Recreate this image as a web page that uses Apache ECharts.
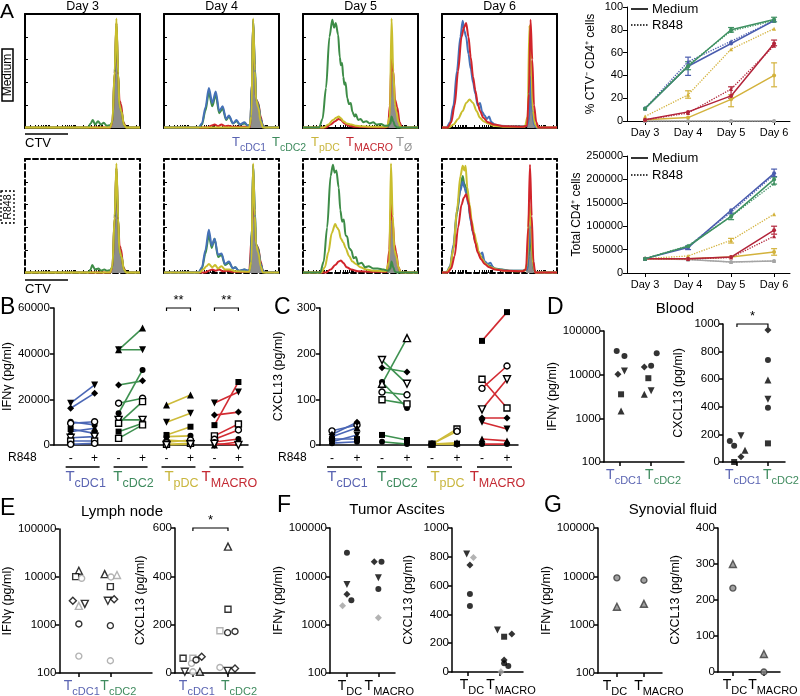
<!DOCTYPE html>
<html><head><meta charset="utf-8">
<script src="https://cdn.jsdelivr.net/npm/echarts@6/dist/echarts.min.js"></script>
<style>html,body{margin:0;padding:0;background:#fff}#c{width:800px;height:696px}</style>
</head><body><div id="c"></div><script>
const FONT = '"Liberation Sans", Arial, Helvetica, sans-serif';

// ---------- Panel A histograms (x: CTV position 0-100 of box, y: % of max) ----------
const hM3_green = [[0,0.5],[55,0.5],[57,4],[59,7],[61,3],[63.5,6],[66,3],[68.5,4.5],[71,2],[74,2.5],[76,5],[78,48],[79.5,92],[81,48],[82,20],[84,14],[86,3],[88,0.5],[100,0.5]];
const hM3_red = [[0,0.5],[74,0.5],[76,5],[78,48],[79.5,92],[81,46],[82.2,24],[83.5,21],[85.5,5],[88,0.5],[100,0.5]];
const hM3_gray = [[0,0],[74,0],[76,6],[78,50],[79.5,95],[81,48],[82,20],[84,14],[86,3],[88,0],[100,0]];
const hM3_yellow = [[0,0.5],[74,0.5],[76,6],[78,50],[79.5,96],[81,48],[82,20],[84,14],[86,3],[88,0.5],[100,0.5]];

const hM4_blue = [[0,0.5],[30,0.5],[33,4],[36,18],[39,35],[42,22],[45,32],[48,15],[51,19],[54,8],[56.5,11],[60,4],[63,7],[66,3],[70,5],[73,2],[75,3],[76.5,40],[77.5,95],[79,55],[80,25],[82,20],[84,8],[86,2],[88,0.5],[100,0.5]];
const hM4_green = [[0,0.5],[30,0.5],[33,3],[36,15],[39,31],[42,19],[45,29],[48,13],[51,17],[54,7],[56.5,10],[60,4],[63,6],[66,3],[70,4],[73,2],[75,3],[76.5,40],[77.5,94],[79,55],[80,25],[82,21],[84,8],[86,2],[88,0.5],[100,0.5]];
const hM4_red = [[0,0.5],[38,0.5],[41,2],[44,3],[47,1.5],[50,3],[53,1.5],[56,2],[60,1],[75,1],[76.5,40],[77.5,92],[79,50],[80,25],[82,22],[84,10],[86,2],[88,0.5],[100,0.5]];
const hM4_gray = [[0,0],[74,0],[76,10],[77.5,95],[79,50],[80,25],[82,18],[84,6],[86,0],[100,0]];
const hM4_yellow = [[0,0.5],[74,0.5],[76,10],[77.5,96],[79,50],[80,25],[82,18],[84,6],[86,0.5],[100,0.5]];

const hM5_green = [[0,0.5],[14,0.5],[17,8],[20,35],[23,80],[25.5,95],[27,88],[28.5,92],[30.5,82],[32,62],[33,55],[34,57],[35,45],[36,38],[37,40],[38.5,26],[40,21],[41.5,22],[43,14],[45,10],[46,12],[48,7],[50,8],[52.5,5],[55,6],[58,4],[61,5],[64,3],[68,3.5],[71,2],[74,2],[76,4],[77,10],[78.5,6],[80,2],[82,0.5],[100,0.5]];
const hM5_yellow = [[0,0.5],[18,0.5],[22,3],[26,7],[29,9],[31,10],[33,8.5],[35,6],[38,4],[42,3],[46,2],[50,1.5],[60,1],[73,1],[75.5,10],[77,96],[78.5,50],[80,20],[81,15],[83,5],[85,0.5],[100,0.5]];
const hM5_red = [[0,0.5],[20,0.5],[24,3],[28,6],[31,8],[33,7],[36,4],[40,2],[45,1],[70,0.5],[74,1],[75.5,20],[77,60],[78.5,50],[80,25],[82,18],[84,5],[86,0.5],[100,0.5]];
const hM5_gray = [[0,0],[74,0],[75.5,10],[77,95],[78.5,45],[80,20],[81.5,17],[83,5],[85,0],[100,0]];

const hM6_blue = [[0,0.5],[4,0.5],[7,5],[10,20],[13,50],[16,80],[18,94],[19.5,85],[21,80],[23,65],[25,52],[27,40],[29,30],[31,20],[33,22],[35,14],[37,11],[39,8],[41,10],[43,5],[46,3],[50,2],[60,1.5],[70,1.5],[74,2],[76,10],[77,45],[78,20],[80,3],[82,0.5],[100,0.5]];
const hM6_red = [[0,0.5],[5,0.5],[8,5],[11,20],[14,50],[17,80],[19,88],[21,92],[23,80],[25,62],[27,45],[29,33],[31,22],[33,15],[36,9],[40,5],[45,3],[55,1.5],[70,1],[74,2],[75.5,30],[77,95],[78.5,60],[80,20],[82,5],[84,0.5],[100,0.5]];
const hM6_yellow = [[0,0.5],[6,0.5],[10,3],[14,8],[18,15],[21,22],[24,25],[27,22],[30,15],[33,9],[36,6],[40,4],[45,2],[55,1],[72,1],[74.5,10],[76,90],[77.5,60],[79,15],[81,3],[83,0.5],[100,0.5]];
const hM6_gray = [[0,0],[74,0],[75.5,15],[76.5,70],[77.5,50],[79,15],[81,0],[100,0]];

const hR3_green = [[0,0.5],[55,0.5],[57,3],[58.5,7],[61,3],[64,4],[66,2],[69,3],[71,2],[74,2.5],[76,5],[78,48],[79.5,92],[81,48],[82,20],[84,14],[86,3],[88,0.5],[100,0.5]];
const hR3_red = [[0,0.5],[74,0.5],[76,5],[78,48],[79.5,92],[81,46],[82.2,24],[83.5,21],[85.5,5],[88,0.5],[100,0.5]];
const hR3_gray = [[0,0],[74,0],[76,6],[78,50],[79.5,95],[81,48],[82,20],[84,14],[86,3],[88,0],[100,0]];
const hR3_yellow = [[0,0.5],[74,0.5],[76,6],[78,50],[79.5,96],[81,48],[82,20],[84,14],[86,3],[88,0.5],[100,0.5]];

const hR4_blue = [[0,0.5],[30,0.5],[33,5],[36,20],[39,38],[41.5,24],[44,30],[47,16],[50,17],[53,8],[56.5,10],[60,4],[62,5],[65,2],[70,3],[73,2],[75,3],[76.5,40],[77.5,95],[79,55],[80,25],[82,20],[84,8],[86,2],[88,0.5],[100,0.5]];
const hR4_green = [[0,0.5],[30,0.5],[33,4],[36,17],[39,33],[41.5,22],[44,30],[47,14],[50,16],[53,7],[56.5,9],[60,4],[62,5],[65,2],[70,3],[73,2],[75,3],[76.5,40],[77.5,94],[79,55],[80,25],[82,21],[84,8],[86,2],[88,0.5],[100,0.5]];
const hR4_yellow = [[0,0.5],[31,0.5],[34,3],[37,6],[39,8],[42,5],[44.5,7],[47,4],[50,6],[53,3],[57,3],[62,1.5],[74,1],[76,10],[77.5,96],[79,50],[80,25],[82,18],[84,6],[86,0.5],[100,0.5]];
const hR4_red = [[0,0.5],[36,0.5],[39,2],[42,3],[45,2],[48,3],[51,1.5],[55,2],[60,1],[74,1],[76.5,35],[77.5,85],[79,45],[80,25],[82,22],[84,10],[86,2],[88,0.5],[100,0.5]];
const hR4_gray = [[0,0],[74,0],[76,10],[77.5,95],[79,50],[80,25],[82,18],[84,6],[86,0],[100,0]];

const hR5_green = [[0,0.5],[15,0.5],[18,10],[21,40],[24,85],[26,95],[27.5,88],[29,90],[31,75],[32.5,55],[34,45],[35.5,47],[37,33],[38.5,32],[40,22],[42,20],[44,13],[46,14],[48,8],[51,9],[54,5],[57,6],[61,4],[65,4],[70,3],[74,2],[76,4],[77,10],[78.5,5],[80,1],[82,0.5],[100,0.5]];
const hR5_yellow = [[0,0.5],[16,0.5],[19,5],[22,18],[25,35],[28,43],[29.5,40],[31,38],[33,30],[35,27],[37,22],[40,15],[43,10],[46,8],[50,5],[55,3],[62,2],[72,1.5],[75,10],[76.5,96],[78,50],[79.5,20],[81,15],[83,5],[85,0.5],[100,0.5]];
const hR5_red = [[0,0.5],[20,0.5],[24,3],[28,7],[31,10],[33,11],[35,9],[38,5],[42,3],[48,1.5],[60,1],[73,1],[75,20],[76.5,60],[78,45],[79.5,25],[81,18],[83,5],[85,0.5],[100,0.5]];
const hR5_gray = [[0,0],[73,0],[75,10],[76.5,95],[78,45],[79.5,20],[81,17],[83,5],[85,0],[100,0]];

const hR6_yellow = [[0,0.5],[4,0.5],[7,5],[10,22],[13,55],[16,85],[18,94],[19.5,90],[20.5,94],[22,75],[24,60],[26,45],[28,35],[30,27],[32,18],[35,12],[38,8],[42,5],[48,3],[55,2],[65,1.5],[72,2],[74,8],[76,60],[77.5,40],[79,8],[81,0.5],[100,0.5]];
const hR6_blue = [[0,0.5],[4,0.5],[7,6],[10,25],[13,55],[16,72],[18,80],[19.5,75],[21,70],[23,60],[25,45],[27,35],[29,28],[31,20],[33,16],[35,18],[37,10],[40,8],[42,9],[45,4],[50,3],[60,2],[70,2],[74,3],[75.5,20],[77,45],[78.5,20],[80,2],[82,0.5],[100,0.5]];
const hR6_green = [[0,0.5],[4,0.5],[7,5],[10,22],[13,52],[16,75],[18,85],[19.5,78],[21,75],[23,62],[25,47],[27,36],[29,28],[31,20],[33,15],[35,14],[37,10],[40,7],[43,6],[46,4],[52,3],[60,2],[70,2],[74,3],[75.5,15],[77,35],[78.5,15],[80,2],[82,0.5],[100,0.5]];
const hR6_red = [[0,0.5],[5,0.5],[8,4],[11,15],[14,40],[17,60],[19,66],[21,69],[23,62],[25,48],[27,36],[29,26],[31,18],[34,12],[37,8],[41,5],[46,3],[55,2],[70,1.5],[73,3],[75,40],[76.5,95],[78,50],[79.5,10],[81,0.5],[100,0.5]];
const hR6_gray = [[0,0],[73,0],[75,15],[76.5,45],[78,20],[80,0],[100,0]];

const dayTitles = ['Day 3', 'Day 4', 'Day 5', 'Day 6'];

// ---------- Panel A line charts ----------
const days = ['Day 3', 'Day 4', 'Day 5', 'Day 6'];
const pctMed_cDC1 = [11, 48, 68, 88];
const pctR848_cDC1 = [11, 52, 70, 88];
const pctMed_cDC2 = [11, 48, 80, 89];
const pctR848_cDC2 = [11, 49, 79, 88];
const pctMed_pDC = [1, 3, 19, 40];
const pctR848_pDC = [4, 23, 63, 81];
const pctMed_MACRO = [1, 8, 22, 68];
const pctR848_MACRO = [1, 7, 28, 66];
const pctMed_null = [0, 0, 0, 0];
const pctR848_null = [0, 0, 0, 0];
const pctErr_cDC1 = [[1, 40, 56]];
const pctErr_cDC2 = [[1, 45, 52], [2, 78, 82], [3, 87, 91]];
const pctErr_pDC = [[1, 20, 26.5], [2, 12.5, 23], [3, 30, 51]];
const pctErr_MACRO = [[2, 20, 30], [3, 66, 71]];

const totMed_cDC1 = [30700, 54300, 134000, 213000];
const totR848_cDC1 = [30700, 57000, 130000, 210000];
const totMed_cDC2 = [30700, 57000, 121000, 200000];
const totR848_cDC2 = [30700, 58000, 121000, 191000];
const totMed_pDC = [30700, 30700, 34300, 45000];
const totR848_pDC = [30700, 36400, 70000, 125700];
const totMed_MACRO = [30700, 30700, 34000, 91400];
const totR848_MACRO = [30700, 30000, 33000, 78600];
const totMed_null = [30700, 29000, 23500, 25700];
const totR848_null = [30700, 29000, 23500, 25700];
const totErr_cDC1 = [[1, 50000, 58000], [3, 206000, 222000]];
const totErr_cDC2 = [[2, 114000, 128000], [3, 190000, 205000]];
const totErr_pDC = [[2, 64000, 74000], [3, 38000, 52000]];
const totErr_MACRO = [[3, 83000, 100000]];

// ---------- Panel B (IFNγ, paired - / + R848) ----------
const B_cDC1_pre = [18300, 16100, 10200, 9500, 7000, 5850, 3200, 1750, 300];
const B_cDC1_post = [26300, 22700, 8800, 10200, 5100, 7300, 3650, 1750, 700];
const B_cDC1_sym = ['itri','dia','circ','ocirc','sq','tri','oitri','osq','ocirc'];
const B_cDC2_pre = [41700, 41700, 26300, 18300, 13900, 11000, 9500, 5850, 2900];
const B_cDC2_post = [51200, 41700, 28100, 20500, 32900, 11000, 19000, 9500, 8800];
const B_cDC2_sym = ['tri','itri','dia','ocirc','circ','oitri','osq','sq','osq'];
const B_pDC_pre = [17500, 10000, 4400, 3650, 2200, 1200, 300, 0];
const B_pDC_post = [21900, 13900, 8000, 4000, 1500, 2200, 700, 300];
const B_pDC_sym = ['tri','itri','sq','circ','dia','ocirc','osq','oitri'];
const B_MACRO_pre = [18400, 13100, 8700, 4000, 2500, 1300, 0, 500];
const B_MACRO_post = [23200, 14400, 27600, 9200, 6600, 2600, 1300, 0];
const B_MACRO_sym = ['itri','dia','sq','osq','ocirc','circ','tri','oitri'];

// ---------- Panel C (CXCL13, paired) ----------
const C_cDC1_pre = [31, 23, 18, 13, 7, 4];
const C_cDC1_post = [44, 50, 38, 13, 22, 7];
const C_cDC1_sym = ['ocirc','dia','tri','sq','itri','circ'];
const C_cDC2_pre = [186, 169, 138, 134, 116, 99, 22, 7];
const C_cDC2_post = [134, 160, 81, 234, 110, 90, 11, 2];
const C_cDC2_sym = ['oitri','dia','circ','otri','ocirc','osq','sq','circ'];
const C_pDC_pre = [2, 2, 2, 2, 2, 2];
const C_pDC_post = [35, 30, 5, 2, 3, 1];
const C_pDC_sym = ['osq','ocirc','tri','circ','sq','dia'];
const C_MACRO_pre = [228, 144, 124, 78, 59, 50, 13, 2];
const C_MACRO_post = [291, 81, 173, 144, 59, 35, 9, 2];
const C_MACRO_sym = ['sq','osq','ocirc','oitri','dia','itri','tri','circ'];

// ---------- Panel D (Blood) ----------
const D_ifn_x = [-0.11, 0.14, -0.07, 0.14, 0.03, 0.03, 1.18, 0.78, 1.0, 0.91, 0.78, 1.0];
const D_ifn_y = [35000, 26800, 10200, 12200, 3550, 1480, 30900, 15000, 16000, 8300, 3550, 4300];
const D_ifn_sym = ['circ','circ','dia','itri','sq','tri','circ','dia','circ','sq','tri','itri'];
const D_cx_x = [-0.23, -0.09, -0.09, 0.13, 0.13, 0.26, 1, 1, 1, 1, 1, 1];
const D_cx_y = [152, 118, 0, 190, 38, 85, 957, 739, 594, 454, 394, 135];
const D_cx_sym = ['circ','circ','sq','itri','dia','tri','dia','circ','tri','itri','circ','sq'];

// ---------- Panel E (Lymph node) ----------
const E_ifn_x = [0, -0.1, 0.09, -0.19, 0, 0.19, 0, 0, 0.82, 1.02, 1.21, 1.0, 0.92, 1.12, 1.0, 1.0];
const E_ifn_y = [13500, 10200, 9400, 3200, 2500, 2750, 1050, 225, 11500, 10000, 11000, 6300, 3200, 3450, 970, 180];
const E_ifn_sym = ['otri','osq','ocirc_g','odia','otri_g','oitri','ocirc','ocirc_g','otri','ocirc_g','otri_g','osq','oitri','odia','ocirc','ocirc_g'];
const E_cx_x = [-0.28, 0, -0.04, 0.09, 0.25, -0.23, 0, 0.2, 1, 1, 0.77, 0.99, 1.2, 0.77, 0.99, 1.2];
const E_cx_y = [61, 61, 40, 54, 67, 5, 5, 5, 523, 264, 175, 167, 172, 23, 9, 19];
const E_cx_sym = ['osq','osq_g','ocirc_g','ocirc','odia','oitri','ocirc_g','otri','otri','osq','osq_g','ocirc','ocirc','ocirc_g','oitri','odia'];

// ---------- Panel F (Tumor ascites) ----------
const F_ifn_x = [0, 0, 0, 0.14, -0.14, 0.87, 1.1, 1, 1, 1];
const F_ifn_y = [30900, 6800, 4250, 3200, 2450, 20000, 20000, 9300, 5500, 1390];
const F_ifn_sym = ['circ','itri','dia','circ','dia_g','dia','circ','itri','circ','dia_g'];
const F_cx_x = [-0.04, 0.17, 0.06, 0.06, 0.06, 0.92, 1.13, 1.37, 1.13, 1.13, 1.26, 1.03];
const F_cx_y = [819, 796, 743, 542, 458, 292, 245, 264, 83, 60, 42, 2];
const F_cx_sym = ['itri','dia_g','dia','circ','circ','itri','sq','dia','dia','circ','circ','dia_g'];

// ---------- Panel G (Synovial fluid) ----------
const G_ifn_x = [0, 0, 1, 1];
const G_ifn_y = [9300, 2350, 8300, 2700];
const G_ifn_sym = ['circ_m','tri_m','circ_m','tri_m'];
const G_cx_x = [0, 0, 1, 1];
const G_cx_y = [300, 233, 50, 0];
const G_cx_sym = ['tri_m','circ_m','tri_m','circ_m'];

// =================== build ===================
const HC = {blue:'#4571b7', green:'#3d8c47', yellow:'#c9be2d', red:'#d1242b', fill:'#8d8d8d'};
const LC = {cDC1:'#4a5cae', cDC2:'#3f9162', pDC:'#d3b23c', MACRO:'#b2243a', null:'#a5a5a5'};
const GC = {cDC1:'#4b67b5', cDC2:'#3e9150', pDC:'#cdbb3a', MACRO:'#d22b32'};
const TXT = {cDC1:'#5a64b2', cDC2:'#3f8b5e', pDC:'#c9b63e', MACRO:'#c42a33', null:'#8f8f8f', k:'#000'};
const plain = v => String(v);

const grid = [], xAxis = [], yAxis = [], series = [];
const HIST_TICKS = [];
for (let d = -2; d < 100; d += 23) for (let k = 1; k < 10; k++) { const v = d + 23 * Math.log10(k); if (v > 0.5 && v < 99.5) HIST_TICKS.push(+v.toFixed(2)); }

function histPanel(left, top, dashed, curves) {
  const gi = grid.length; grid.push({left, top, width:115, height:114});
  const ls = {color:'#000', width:2, type: dashed ? [5,3] : 'solid'};
  const base = {gridIndex:gi, type:'value', min:0, max:100, splitLine:{show:false}, axisLabel:{show:false}};
  const xi = xAxis.length;
  xAxis.push(Object.assign({}, base, {position:'bottom', axisLine:{show:true,onZero:false,lineStyle:ls}, axisTick:{show:true, inside:true, length:3, customValues:HIST_TICKS, lineStyle:{color:'#000', width:1}}}));
  xAxis.push(Object.assign({}, base, {position:'top', axisLine:{show:true,onZero:false,lineStyle:ls}, axisTick:{show:false}}));
  const yi = yAxis.length;
  yAxis.push(Object.assign({}, base, {position:'left', interval:20, axisLine:{show:true,onZero:false,lineStyle:ls}, axisTick:{show:true, inside:true, length:3, lineStyle:{color:'#000', width:1}}}));
  yAxis.push(Object.assign({}, base, {position:'right', axisLine:{show:true,onZero:false,lineStyle:ls}, axisTick:{show:false}}));
  curves.forEach(([data, kind]) => {
    const s = {type:'line', xAxisIndex:xi, yAxisIndex:yi, data, symbol:'none', smooth:0.3, smoothMonotone:'x', silent:true};
    if (kind === 'fill') { s.lineStyle = {width:0}; s.areaStyle = {color:HC.fill, opacity:1}; }
    else s.lineStyle = {color:HC[kind], width:2};
    series.push(s);
  });
}
const histLefts = [25, 164, 303, 442];
histPanel(histLefts[0], 14, false, [[hM3_red,'red'],[hM3_green,'green'],[hM3_gray,'fill'],[hM3_yellow,'yellow']]);
histPanel(histLefts[1], 14, false, [[hM4_red,'red'],[hM4_green,'green'],[hM4_blue,'blue'],[hM4_gray,'fill'],[hM4_yellow,'yellow']]);
histPanel(histLefts[2], 14, false, [[hM5_gray,'fill'],[hM5_red,'red'],[hM5_yellow,'yellow'],[hM5_green,'green']]);
histPanel(histLefts[3], 14, false, [[hM6_gray,'fill'],[hM6_blue,'blue'],[hM6_yellow,'yellow'],[hM6_red,'red']]);
histPanel(histLefts[0], 159, true, [[hR3_red,'red'],[hR3_green,'green'],[hR3_gray,'fill'],[hR3_yellow,'yellow']]);
histPanel(histLefts[1], 159, true, [[hR4_red,'red'],[hR4_green,'green'],[hR4_blue,'blue'],[hR4_gray,'fill'],[hR4_yellow,'yellow']]);
histPanel(histLefts[2], 159, true, [[hR5_gray,'fill'],[hR5_red,'red'],[hR5_yellow,'yellow'],[hR5_green,'green']]);
histPanel(histLefts[3], 159, true, [[hR6_gray,'fill'],[hR6_green,'green'],[hR6_blue,'blue'],[hR6_yellow,'yellow'],[hR6_red,'red']]);

// line charts
const lineAxisStyle = {show:true, onZero:false, lineStyle:{color:'#000', width:1}};
function lineChart(top, height, ymax, yint, yname, nameGap, sets, errs) {
  const gi = grid.length; grid.push({left:627, top, width:163, height});
  const xi = xAxis.length, yi = yAxis.length;
  xAxis.push({gridIndex:gi, type:'value', min:-0.42, max:3.37, axisLine:lineAxisStyle, splitLine:{show:false},
    axisTick:{show:true, customValues:[0,1,2,3], length:4, lineStyle:{color:'#000'}},
    axisLabel:{show:true, customValues:[0,1,2,3], formatter:v => days[Math.round(v)], fontSize:11, color:'#000', fontFamily:FONT, margin:6}});
  yAxis.push({gridIndex:gi, type:'value', min:0, max:ymax, interval:yint, axisLine:lineAxisStyle, splitLine:{show:false},
    axisTick:{show:true, length:4, lineStyle:{color:'#000'}},
    axisLabel:{fontSize:11, color:'#000', fontFamily:FONT, margin:4, formatter:plain},
    name:yname, nameLocation:'middle', nameGap, nameTextStyle:{fontSize:12, color:'#000', fontFamily:FONT}});
  sets.forEach(([key, med, r]) => {
    series.push({type:'line', xAxisIndex:xi, yAxisIndex:yi, data:med.map((v,i)=>[i,v]), symbol:'circle', symbolSize:4, lineStyle:{color:LC[key], width:1.5}, itemStyle:{color:LC[key]}, silent:true});
    series.push({type:'line', xAxisIndex:xi, yAxisIndex:yi, data:r.map((v,i)=>[i,v]), symbol:'triangle', symbolSize:4, lineStyle:{color:LC[key], width:1.3, type:'dotted'}, itemStyle:{color:LC[key]}, silent:true});
  });
  errs.forEach(([key, data]) => {
    const color = LC[key];
    series.push({type:'custom', xAxisIndex:xi, yAxisIndex:yi, data, silent:true, encode:{x:0, y:[1,2]},
      renderItem:(params, api) => {
        const x = api.value(0), a = api.coord([x, api.value(1)]), b = api.coord([x, api.value(2)]), w = 3;
        const st = {stroke:color, lineWidth:1.2};
        return {type:'group', children:[
          {type:'line', shape:{x1:a[0], y1:a[1], x2:b[0], y2:b[1]}, style:st},
          {type:'line', shape:{x1:a[0]-w, y1:a[1], x2:a[0]+w, y2:a[1]}, style:st},
          {type:'line', shape:{x1:b[0]-w, y1:b[1], x2:b[0]+w, y2:b[1]}, style:st}]};
      }});
  });
}
lineChart(7, 114, 100, 20, '% CTV\u207B CD4\u207A cells', 30,
  [['null',pctMed_null,pctR848_null],['pDC',pctMed_pDC,pctR848_pDC],['MACRO',pctMed_MACRO,pctR848_MACRO],['cDC1',pctMed_cDC1,pctR848_cDC1],['cDC2',pctMed_cDC2,pctR848_cDC2]],
  [['cDC1',pctErr_cDC1],['cDC2',pctErr_cDC2],['pDC',pctErr_pDC],['MACRO',pctErr_MACRO]]);
lineChart(156, 117, 250000, 50000, 'Total CD4\u207A cells', 44,
  [['null',totMed_null,totR848_null],['pDC',totMed_pDC,totR848_pDC],['MACRO',totMed_MACRO,totR848_MACRO],['cDC1',totMed_cDC1,totR848_cDC1],['cDC2',totMed_cDC2,totR848_cDC2]],
  [['cDC1',totErr_cDC1],['cDC2',totErr_cDC2],['pDC',totErr_pDC],['MACRO',totErr_MACRO]]);

// marker helper
function mk(code) {
  const [sym, cc] = code.split('_');
  const open = sym.startsWith('o'); const base = open ? sym.slice(1) : sym;
  const shape = {circ:'circle', sq:'rect', tri:'triangle', itri:'triangle', dia:'diamond'}[base];
  const size = {circ:6, sq:6, tri:7, itri:7, dia:7}[base];
  let fill = '#000', border = '#000';
  if (cc === 'g') { fill = '#a0a0a0'; border = '#a0a0a0'; }
  if (cc === 'm') { fill = '#8a8a8a'; border = '#3a3a3a'; }
  if (open) fill = '#fff';
  return {symbol:shape, symbolSize: size, symbolRotate: base === 'itri' ? 180 : 0,
    itemStyle:{color:fill, borderColor:border, borderWidth:(open || cc === 'm') ? 1.4 : 0}};
}

const axBlack = {show:true, onZero:false, lineStyle:{color:'#000', width:1.5}};
const refs = {};
function pairedPanel(id, left, width, xmin, xmax, ymax, yint, yname, nameGap, groups) {
  const gi = grid.length; grid.push({left, top:308, width, height:137});
  const xi = xAxis.length, yi = yAxis.length;
  refs[id] = {xAxisIndex:xi, yAxisIndex:yi};
  xAxis.push({gridIndex:gi, type:'value', min:xmin, max:xmax, axisLine:axBlack, splitLine:{show:false}, axisTick:{show:false},
    axisLabel:{show:true, customValues:[0,1,2,3,4,5,6,7], formatter:v => (Math.round(v) % 2 ? '+' : '-'), fontSize:12, color:'#000', fontFamily:FONT, margin:8}});
  yAxis.push({gridIndex:gi, type:'value', min:0, max:ymax, interval:yint, axisLine:axBlack, splitLine:{show:false},
    axisTick:{show:true, length:4, lineStyle:{color:'#000', width:1.5}},
    axisLabel:{fontSize:11.5, color:'#000', fontFamily:FONT, margin:4, formatter:plain},
    name:yname, nameLocation:'middle', nameGap, nameTextStyle:{fontSize:12.5, color:'#000', fontFamily:FONT}});
  groups.forEach(([key, pre, post, syms], g) => {
    pre.forEach((v, i) => {
      const m = mk(syms[i]);
      series.push(Object.assign({type:'line', xAxisIndex:xi, yAxisIndex:yi, data:[[2*g, v], [2*g+1, post[i]]], silent:true,
        lineStyle:{color:GC[key], width:1.6}}, m));
    });
  });
}
pairedPanel('B', 46, 202, -0.7, 7.4, 60000, 20000, 'IFN\u03B3 (pg/ml)', 34,
  [['cDC1',B_cDC1_pre,B_cDC1_post,B_cDC1_sym],['cDC2',B_cDC2_pre,B_cDC2_post,B_cDC2_sym],['pDC',B_pDC_pre,B_pDC_post,B_pDC_sym],['MACRO',B_MACRO_pre,B_MACRO_post,B_MACRO_sym]]);
pairedPanel('C', 320, 198, -0.48, 7.44, 300, 100, 'CXCL13 (pg/ml)', 35,
  [['cDC1',C_cDC1_pre,C_cDC1_post,C_cDC1_sym],['cDC2',C_cDC2_pre,C_cDC2_post,C_cDC2_sym],['pDC',C_pDC_pre,C_pDC_post,C_pDC_sym],['MACRO',C_MACRO_pre,C_MACRO_post,C_MACRO_sym]]);

const scatterLabels = {};
function scatterPanel(id, o) {
  const gi = grid.length; grid.push({left:o.left, top:o.top, width:o.width, height:o.height});
  const xi = xAxis.length, yi = yAxis.length;
  refs[id] = {xAxisIndex:xi, yAxisIndex:yi};
  scatterLabels[id] = {labels:o.labels, ybase:o.log ? 100 : 0};
  xAxis.push({gridIndex:gi, type:'value', min:o.xmin, max:o.xmax, axisLine:axBlack, splitLine:{show:false},
    axisTick:{show:true, customValues:[0,1], length:4, lineStyle:{color:'#000', width:1.5}},
    axisLabel:{show:false}});
  const y = {gridIndex:gi, axisLine:axBlack, splitLine:{show:false},
    axisTick:{show:true, length:4, lineStyle:{color:'#000', width:1.5}},
    axisLabel:{fontSize:11.5, color:'#000', fontFamily:FONT, margin:3, formatter:plain},
    name:o.yname, nameLocation:'middle', nameGap:o.nameGap, nameTextStyle:{fontSize:12.5, color:'#000', fontFamily:FONT}};
  if (o.log) Object.assign(y, {type:'log', logBase:10, min:100, max:100000});
  else Object.assign(y, {type:'value', min:0, max:o.ymax, interval:o.yint});
  yAxis.push(y);
  series.push({type:'scatter', xAxisIndex:xi, yAxisIndex:yi, silent:true,
    data:o.xs.map((x, i) => Object.assign({value:[x, o.ys[i]]}, mk(o.syms[i])))});
}
const labCDC = (p0, p1) => [{s:'cDC1', color:TXT.cDC1, shift:p0}, {s:'cDC2', color:TXT.cDC2, shift:p1}];
const labDM = (p0, p1) => [{s:'DC', color:'#000', shift:p0}, {s:'MACRO', color:'#000', shift:p1}];
scatterPanel('Dl', {left:604, top:331, width:80, height:131, xmin:-0.52, xmax:2.06, log:true, yname:'IFN\u03B3 (pg/ml)', nameGap:44, labels:labCDC(4,12), xs:D_ifn_x, ys:D_ifn_y, syms:D_ifn_sym});
scatterPanel('Dr', {left:723, top:324, width:62, height:138, xmin:-0.45, xmax:1.55, ymax:1000, yint:200, yname:'CXCL13 (pg/ml)', nameGap:38, labels:labCDC(6,13), xs:D_cx_x, ys:D_cx_y, syms:D_cx_sym});
scatterPanel('El', {left:52, top:529, width:100, height:144, xmin:-0.62, xmax:2.32, log:true, yname:'IFN\u03B3 (pg/ml)', nameGap:43, labels:labCDC(3,8), xs:E_ifn_x, ys:E_ifn_y, syms:E_ifn_sym});
scatterPanel('Er', {left:175, top:528, width:80, height:145, xmin:-0.51, xmax:1.77, ymax:600, yint:200, yname:'CXCL13 (pg/ml)', nameGap:28, labels:labCDC(4,11), xs:E_cx_x, ys:E_cx_y, syms:E_cx_sym});
scatterPanel('Fl', {left:330, top:528, width:65, height:145, xmin:-0.54, xmax:1.53, log:true, yname:'IFN\u03B3 (pg/ml)', nameGap:45, labels:labDM(3,11), xs:F_ifn_x, ys:F_ifn_y, syms:F_ifn_sym});
scatterPanel('Fr', {left:452, top:528, width:71, height:144, xmin:-0.5, xmax:1.72, ymax:1000, yint:200, yname:'CXCL13 (pg/ml)', nameGap:37, labels:labDM(4,11), xs:F_cx_x, ys:F_cx_y, syms:F_cx_sym});
scatterPanel('Gl', {left:598, top:528, width:64, height:145, xmin:-0.7, xmax:1.67, log:true, yname:'IFN\u03B3 (pg/ml)', nameGap:41, labels:labDM(-2,15), xs:G_ifn_x, ys:G_ifn_y, syms:G_ifn_sym});
scatterPanel('Gr', {left:718, top:528, width:62, height:144, xmin:-0.48, xmax:1.52, ymax:400, yint:100, yname:'CXCL13 (pg/ml)', nameGap:36, labels:labDM(2,9), xs:G_cx_x, ys:G_cx_y, syms:G_cx_sym});

// ---------- static text graphics ----------
function txt(text, x, y, size, align, vAlign, fill, extra) {
  return Object.assign({type:'text', x, y, silent:true, style:{text, fontSize:size, fontFamily:FONT, fill:fill || '#000', align:align || 'left', verticalAlign:vAlign || 'top'}}, extra || {});
}
function richT(sub, x, y, color, align, tSize, sSize) {
  const ts = tSize || 15, ss = sSize || 12.5;
  return {type:'text', x, y, silent:true, style:{text:'{t|T}{s|' + sub + '}', align:align || 'left', verticalAlign:'top',
    rich:{t:{fontSize:ts, fill:color, fontFamily:FONT, lineHeight:ts + 2, verticalAlign:'top'},
          s:{fontSize:ss, fill:color, fontFamily:FONT, lineHeight:ss + 1, padding:[Math.round(ts * 0.5), 0, 0, 0], verticalAlign:'top'}}}};
}
const staticG = [
  txt('A', 0, 2, 21), txt('B', 0, 296, 23), txt('C', 274, 296, 23), txt('D', 547, 296, 23),
  txt('E', 0, 497, 23), txt('F', 277, 494, 23), txt('G', 544, 494, 23),
  txt('Blood', 675, 309, 15, 'center', 'middle'), txt('Lymph node', 122, 512, 15, 'center', 'middle'),
  txt('Tumor Ascites', 397, 510, 15, 'center', 'middle'), txt('Synovial fluid', 673, 510, 15, 'center', 'middle'),
  txt('R848', 8, 458, 12, 'left', 'middle'), txt('R848', 278, 458, 12, 'left', 'middle'),
  {type:'rect', silent:true, shape:{x:2, y:49, width:11, height:52}, style:{fill:'none', stroke:'#000', lineWidth:1.5}},
  txt('Medium', 7.5, 75, 12, 'center', 'middle', '#000', {rotation:Math.PI/2}),
  {type:'rect', silent:true, shape:{x:1, y:191, width:13, height:32}, style:{fill:'none', stroke:'#000', lineWidth:1.3, lineDash:[2,2]}},
  txt('R848', 8, 207, 10.5, 'center', 'middle', '#000', {rotation:Math.PI/2}),
  {type:'line', silent:true, shape:{x1:25, y1:134, x2:68, y2:134}, style:{stroke:'#000', lineWidth:1.5}},
  txt('CTV', 25, 137, 13),
  {type:'line', silent:true, shape:{x1:25, y1:280, x2:68, y2:280}, style:{stroke:'#000', lineWidth:1.5}},
  txt('CTV', 25, 283, 13),
  richT('cDC1', 232, 136, TXT.cDC1, 'left', 13, 10.5), richT('cDC2', 272, 136, TXT.cDC2, 'left', 13, 10.5),
  richT('pDC', 311, 136, TXT.pDC, 'left', 13, 10.5), richT('MACRO', 346, 136, TXT.MACRO, 'left', 13, 10.5),
  richT('\u00D8', 396, 136, TXT.null, 'left', 13, 10.5),
  // legends of the two line charts
  {type:'line', silent:true, shape:{x1:631, y1:9, x2:648, y2:9}, style:{stroke:'#000', lineWidth:1.6}},
  txt('Medium', 652, 9, 13, 'left', 'middle'),
  {type:'line', silent:true, shape:{x1:631, y1:25, x2:648, y2:25}, style:{stroke:'#000', lineWidth:1.6, lineDash:[1.5,1.5]}},
  txt('R848', 652, 25, 13, 'left', 'middle'),
  {type:'line', silent:true, shape:{x1:631, y1:158, x2:648, y2:158}, style:{stroke:'#000', lineWidth:1.6}},
  txt('Medium', 652, 158, 13, 'left', 'middle'),
  {type:'line', silent:true, shape:{x1:631, y1:175, x2:648, y2:175}, style:{stroke:'#000', lineWidth:1.6, lineDash:[1.5,1.5]}},
  txt('R848', 652, 175, 13, 'left', 'middle')
];
histLefts.forEach((l, i) => staticG.push(txt(dayTitles[i], l + 57.5, 7, 12.5, 'center', 'middle')));

const option = {animation:false, backgroundColor:'#fff', grid, xAxis, yAxis, series, graphic:staticG};

const chart = echarts.init(document.getElementById('c'), null, {renderer:'canvas', width:800, height:696});
chart.setOption(option);

// ---------- annotations placed through the axes' own scales ----------
const dyn = [];
function px(id, x, y) { return chart.convertToPixel(refs[id], [x, y]); }
function groupLabels(id, yLine, keys) {
  keys.forEach((key, g) => {
    const a = px(id, 2*g, 0), b = px(id, 2*g+1, 0);
    dyn.push({type:'line', silent:true, shape:{x1:a[0]-5, y1:yLine, x2:b[0]+5, y2:yLine}, style:{stroke:'#000', lineWidth:1.5}});
    dyn.push(richT(key, (a[0]+b[0])/2 + 3, yLine + 2, TXT[key], 'center'));
  });
}
groupLabels('B', 467, ['cDC1','cDC2','pDC','MACRO']);
groupLabels('C', 467, ['cDC1','cDC2','pDC','MACRO']);
Object.keys(scatterLabels).forEach(id => {
  const S = scatterLabels[id];
  S.labels.forEach((L, i) => {
    const p = px(id, i, S.ybase);
    dyn.push(richT(L.s, p[0] + L.shift, p[1] + 6, L.color, 'center', 14, 11));
  });
});
function sigBar(id, x0, x1, y, label) {
  const a = px(id, x0, y), b = px(id, x1, y);
  dyn.push({type:'polyline', silent:true, shape:{points:[[a[0], a[1]+3], [a[0], a[1]], [b[0], b[1]], [b[0], b[1]+3]]}, style:{stroke:'#000', lineWidth:1.2, fill:'none'}});
  dyn.push(txt(label, (a[0]+b[0])/2, a[1] - 1, 13, 'center', 'bottom'));
}
sigBar('B', 4, 5, 60000, '**');
sigBar('B', 6, 7, 60000, '**');
sigBar('Dr', 0, 1, 1000, '*');
sigBar('Er', 0, 1, 600, '*');
chart.setOption({graphic: staticG.concat(dyn)});
</script></body></html>
